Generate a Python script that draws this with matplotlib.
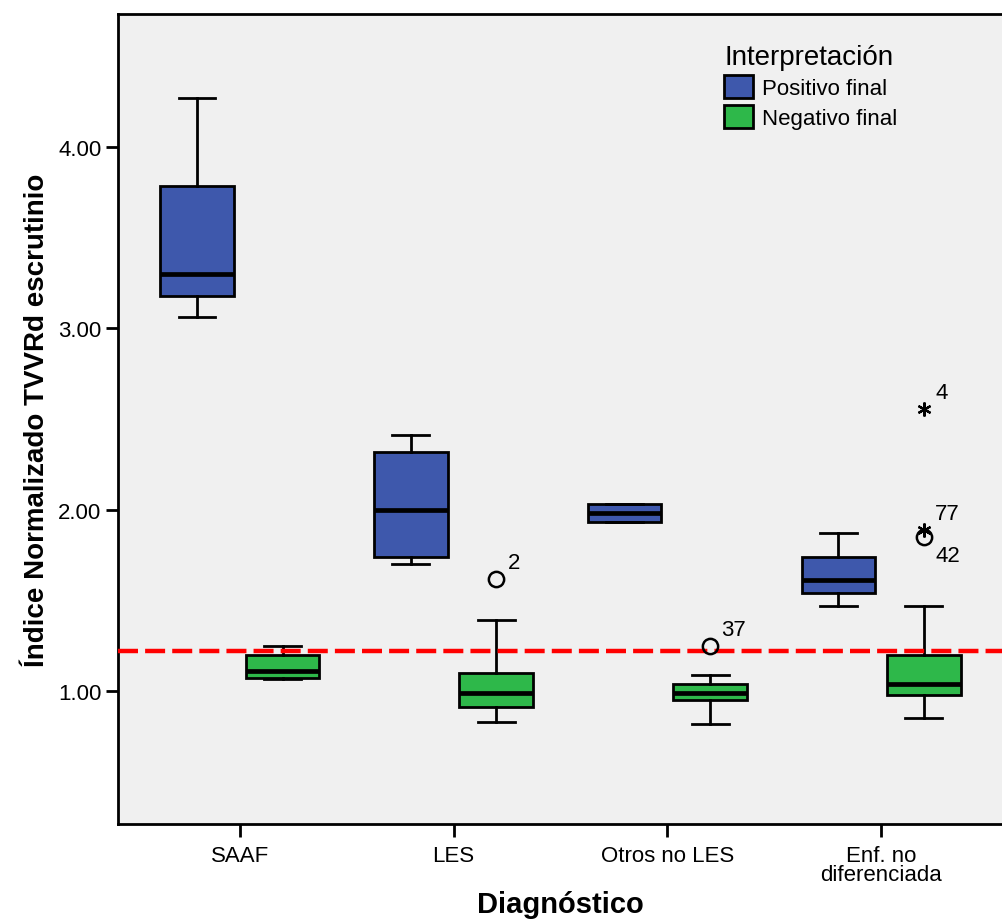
import numpy as np
import matplotlib
matplotlib.use('Agg')
import matplotlib.pyplot as plt
from matplotlib.patches import Patch

# fuente tipo Arial
plt.rcParams['font.family'] = ['Liberation Sans', 'DejaVu Sans']

categorias = ['SAAF', 'LES', 'Otros no LES', 'Enf. no\ndiferenciada']
series = ['Positivo final', 'Negativo final']
colores = ['#3E58AC', '#2EB84A']

# estadísticos del boxplot: [whislo, q1, med, q3, whishi] por categoría
positivo = [
    [3.06, 3.18, 3.30, 3.785, 4.27],
    [1.70, 1.74, 2.00, 2.32, 2.41],
    [1.93, 1.93, 1.98, 2.03, 2.03],
    [1.47, 1.54, 1.61, 1.74, 1.87],
]
negativo = [
    [1.065, 1.07, 1.11, 1.20, 1.25],
    [0.83, 0.91, 0.99, 1.10, 1.39],
    [0.82, 0.95, 0.99, 1.04, 1.09],
    [0.85, 0.98, 1.04, 1.20, 1.47],
]

# valores atípicos (serie negativo): categoría, valor, etiqueta, tipo, posición etiqueta
atip_cat = [1, 2, 3, 3, 3]
atip_val = [1.62, 1.25, 2.555, 1.89, 1.85]
atip_lab = ['2', '37', '4', '77', '42']
atip_tipo = ['o', 'o', '*', '*', 'o']
atip_pos = ['up', 'up', 'up', 'up', 'down']

corte = 1.22

fig = plt.figure(figsize=(10.03, 9.2), dpi=100)
ax = fig.add_axes([0.1176, 0.1033, 0.8824, 0.8804])
ax.set_facecolor('#F0F0F0')

x = np.arange(len(categorias))
off = 0.2
ancho = 0.345

for datos, desp, col in [(positivo, -off, colores[0]), (negativo, off, colores[1])]:
    stats = []
    for d in datos:
        stats.append({'whislo': d[0], 'q1': d[1], 'med': d[2], 'q3': d[3], 'whishi': d[4], 'fliers': []})
    ax.bxp(stats, positions=x + desp, widths=ancho, patch_artist=True, showfliers=False,
           boxprops=dict(facecolor=col, edgecolor='black', linewidth=2.0),
           medianprops=dict(color='black', linewidth=3.4),
           whiskerprops=dict(color='black', linewidth=2.0),
           capprops=dict(color='black', linewidth=2.0),
           capwidths=ancho * 0.5, manage_ticks=False, zorder=3)

ax.axhline(corte, color='red', linewidth=3.2, dashes=(4.5, 1.6), zorder=4)

for c, v, lab, m, p in zip(atip_cat, atip_val, atip_lab, atip_tipo, atip_pos):
    xp = c + off
    if m == 'o':
        ax.plot(xp, v, marker='o', markersize=11, markerfacecolor='none',
                markeredgecolor='black', markeredgewidth=1.8, zorder=5)
    else:
        ax.plot(xp, v, marker=(6, 2, 0), markersize=10, color='black',
                markeredgewidth=1.6, zorder=5)
    if p == 'up':
        ax.annotate(lab, (xp, v), xytext=(8, 4), textcoords='offset points',
                    fontsize=16, ha='left', va='bottom')
    else:
        ax.annotate(lab, (xp, v), xytext=(8, -6), textcoords='offset points',
                    fontsize=16, ha='left', va='top')

ax.set_xlim(-0.57, 3.57)
ax.set_ylim(0.2664, 4.734)
ax.set_yticks([1, 2, 3, 4])
ax.set_yticklabels(['1.00', '2.00', '3.00', '4.00'], fontsize=16)
ax.set_xticks(x)
ax.set_xticklabels(categorias, fontsize=16, linespacing=0.9)
ax.tick_params(axis='both', direction='out', length=9, width=2.0, color='black')
ax.tick_params(axis='x', pad=6)
ax.tick_params(axis='y', pad=3)
for s in ['left', 'top', 'bottom']:
    ax.spines[s].set_linewidth(2.0)
ax.spines['right'].set_visible(False)

ax.set_xlabel('Diagnóstico', fontsize=21, fontweight='bold')
ax.xaxis.set_label_coords(0.5, -0.082)
ax.set_ylabel('Índice Normalizado TVVRd escrutinio', fontsize=20, fontweight='bold',
              labelpad=6)

handles = [Patch(facecolor=colores[0], edgecolor='black', linewidth=2.0),
           Patch(facecolor=colores[1], edgecolor='black', linewidth=2.0)]
leg = ax.legend(handles, series, title='Interpretación', loc='upper left',
                bbox_to_anchor=(0.665, 0.985), frameon=False, fontsize=16,
                title_fontsize=20, handlelength=1.3, handleheight=1.2,
                handletextpad=0.4, labelspacing=0.25, borderpad=0.3)
leg._legend_box.align = 'left'

plt.savefig('out.png', dpi=100)
plt.close()
